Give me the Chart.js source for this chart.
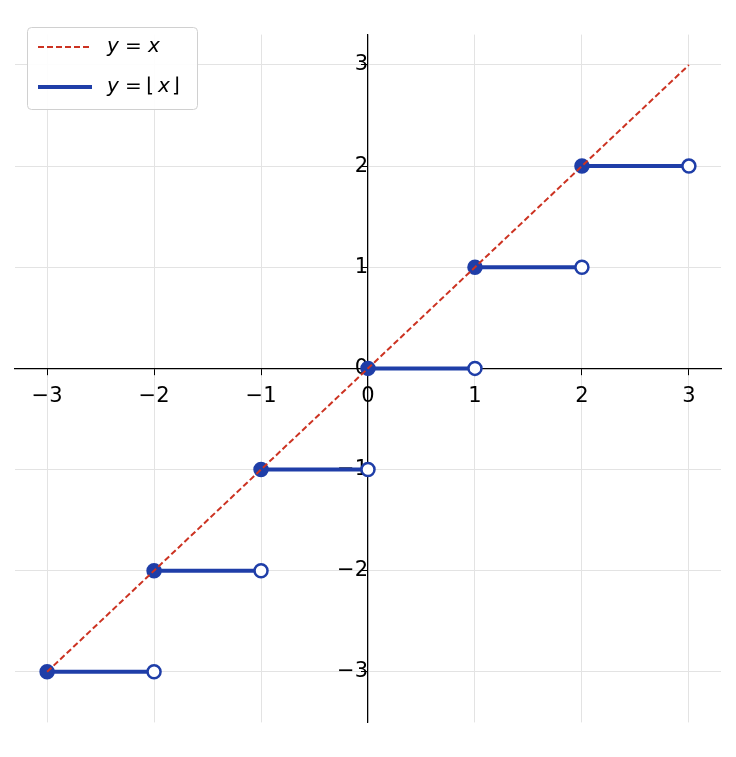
<!DOCTYPE html>
<html>
<head>
<meta charset="utf-8">
<script src="https://cdn.jsdelivr.net/npm/chart.js@4"></script>
<style>
  html, body { margin: 0; padding: 0; background: #fff; }
  #wrap { width: 736px; height: 757px; }
</style>
</head>
<body>
<div id="wrap"><canvas id="chart"></canvas></div>
<script>
// Data
const stepStarts = [-3, -2, -1, 0, 1, 2];
const stepValues = [-3, -2, -1, 0, 1, 2];
const identityX = [-3, 3];
const tickValues = [-3, -2, -1, 0, 1, 2, 3];

const BLUE = '#1f3ea8';
const RED = '#cc3322';

const datasets = [{
    label: 'y = x',
    data: identityX.map(x => ({ x: x, y: x })),
    showLine: true,
    borderColor: RED,
    borderWidth: 2,
    borderDash: [6, 3],
    pointRadius: 0,
    order: 0
}];

stepStarts.forEach((x0, i) => {
    datasets.push({
        label: 'floor',
        data: [{ x: x0, y: stepValues[i] }, { x: x0 + 1, y: stepValues[i] }],
        showLine: true,
        borderColor: BLUE,
        borderWidth: 4,
        pointRadius: 6.5,
        pointBorderWidth: 2.5,
        pointBorderColor: BLUE,
        pointBackgroundColor: [BLUE, '#ffffff'],
        order: 1
    });
});

const fmt = v => (v < 0 ? '\u2212' + Math.abs(v) : String(v));

// Legend drawn inside the plot, upper left
const legendPlugin = {
    id: 'innerLegend',
    afterDraw(chart) {
        const ctx = chart.ctx;
        ctx.save();
        const x = 27, y = 27, w = 170, h = 82;
        ctx.fillStyle = 'rgba(255,255,255,0.9)';
        ctx.strokeStyle = '#d0d0d0';
        ctx.lineWidth = 1;
        ctx.beginPath();
        ctx.roundRect(x + 0.5, y + 0.5, w, h, 4);
        ctx.fill();
        ctx.stroke();

        ctx.strokeStyle = RED;
        ctx.lineWidth = 2;
        ctx.setLineDash([6, 3]);
        ctx.beginPath();
        ctx.moveTo(38, 47); ctx.lineTo(92, 47);
        ctx.stroke();

        ctx.setLineDash([]);
        ctx.strokeStyle = BLUE;
        ctx.lineWidth = 4;
        ctx.beginPath();
        ctx.moveTo(38, 87); ctx.lineTo(92, 87);
        ctx.stroke();

        ctx.fillStyle = '#000';
        ctx.textBaseline = 'middle';
        ctx.font = 'italic 20px "DejaVu Sans"';
        ctx.fillText('y', 107, 47);
        ctx.font = '20px "DejaVu Sans"';
        ctx.fillText('=', 125, 47);
        ctx.font = 'italic 20px "DejaVu Sans"';
        ctx.fillText('x', 148, 47);

        ctx.fillText('y', 107, 87);
        ctx.font = '20px "DejaVu Sans"';
        ctx.fillText('=', 125, 87);
        ctx.fillText('\u230A', 146, 87);
        ctx.font = 'italic 20px "DejaVu Sans"';
        ctx.fillText('x', 158, 87);
        ctx.font = '20px "DejaVu Sans"';
        ctx.fillText('\u230B', 172, 87);
        ctx.restore();
    }
};

new Chart(document.getElementById('chart'), {
    type: 'scatter',
    data: { datasets: datasets },
    plugins: [legendPlugin],
    options: {
        responsive: true,
        maintainAspectRatio: false,
        animation: false,
        layout: { padding: { left: 15, right: 15, top: 11, bottom: 12 } },
        plugins: { legend: { display: false }, tooltip: { enabled: false } },
        scales: {
            x: {
                type: 'linear',
                min: -3.3, max: 3.3,
                position: { y: 0 },
                afterBuildTicks: s => { s.ticks = tickValues.map(v => ({ value: v })); },
                ticks: { color: '#000', font: { family: 'DejaVu Sans', size: 21 }, padding: 10, callback: fmt },
                grid: { color: '#e3e3e3', tickColor: '#000', tickLength: 6 },
                border: { color: '#000', width: 1.2 }
            },
            y: {
                type: 'linear',
                min: -3.5, max: 3.3,
                position: { x: 0 },
                afterBuildTicks: s => { s.ticks = tickValues.map(v => ({ value: v })); },
                ticks: { color: '#000', font: { family: 'DejaVu Sans', size: 21 }, padding: 22, callback: fmt },
                grid: { color: '#e3e3e3', tickColor: '#000', tickLength: 6 },
                border: { color: '#000', width: 1.2 }
            }
        }
    }
});
</script>
</body>
</html>
